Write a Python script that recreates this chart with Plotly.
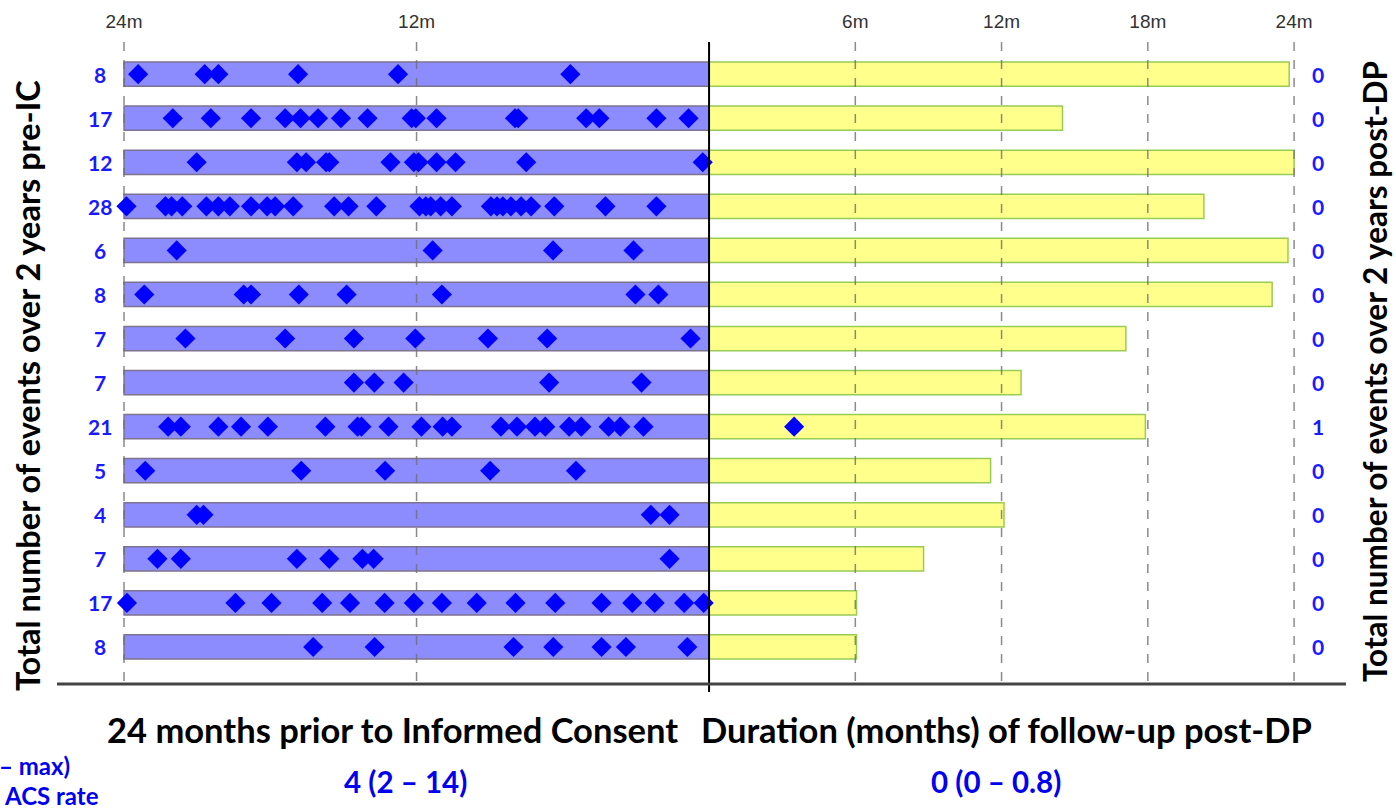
import plotly.graph_objects as go

# ---------------- data ----------------
pre_counts = [8, 17, 12, 28, 6, 8, 7, 7, 21, 5, 4, 7, 17, 8]
post_counts = [0, 0, 0, 0, 0, 0, 0, 0, 1, 0, 0, 0, 0, 0]
followup_months = [23.8, 14.5, 24.0, 20.3, 23.75, 23.1, 17.1, 12.8, 17.9, 11.55, 12.1, 8.8, 6.05, 6.05]

pre_events = [
    [-23.42, -20.69, -20.13, -16.86, -12.76, -5.69],
    [-22.00, -20.44, -18.79, -17.39, -16.76, -16.04, -15.10, -14.01, -12.20, -12.03, -11.18,
     -7.96, -7.83, -5.04, -4.50, -2.16, -0.84],
    [-21.02, -16.91, -16.53, -15.71, -15.58, -13.07, -12.11, -11.92, -11.18, -10.40, -7.50, -0.26],
    [-23.90, -22.30, -22.05, -21.61, -20.62, -20.13, -19.66, -18.79, -18.13, -17.80, -17.06,
     -15.38, -14.79, -13.65, -11.88, -11.62, -11.42, -11.01, -10.55, -8.95, -8.70, -8.46,
     -8.13, -7.71, -7.30, -6.35, -4.25, -2.16],
    [-21.84, -11.34, -6.40, -3.10],
    [-23.17, -19.09, -18.79, -16.83, -14.87, -10.96, -3.02, -2.08],
    [-21.48, -17.39, -14.57, -12.05, -9.07, -6.64, -0.76],
    [-14.57, -13.73, -12.53, -6.56, -2.77],
    [-22.19, -21.67, -20.13, -19.20, -18.10, -15.74, -14.42, -14.26, -13.15, -11.80, -10.93,
     -10.55, -8.54, -7.88, -7.14, -6.72, -5.74, -5.24, -4.12, -3.64, -2.69],
    [-23.13, -16.73, -13.29, -8.98, -5.46],
    [-21.02, -20.74, -2.39, -1.62],
    [-22.63, -21.67, -16.91, -15.58, -14.22, -13.76, -1.62],
    [-23.88, -19.43, -17.95, -15.87, -14.73, -13.31, -12.11, -10.96, -9.53, -7.94, -6.31,
     -4.41, -3.15, -2.23, -1.02, -0.22],
    [-16.24, -13.72, -8.02, -6.39, -4.41, -3.41, -0.89],
]
post_events = [[], [], [], [], [], [], [], [], [3.49], [], [], [], [], []]

tick_vals = [-24, -12, 6, 12, 18, 24]
tick_text = ["24m", "12m", "6m", "12m", "18m", "24m"]

left_title = "Total number of events over 2 years pre-IC"
right_title = "Total number of events over 2 years post-DP"
bottom_left = "24 months prior to Informed Consent"
bottom_right = "Duration (months) of follow-up post-DP"
summary_left = "4 (2 – 14)"
summary_right = "0 (0 – 0.8)"
side_lines = ["– max)", "ACS rate"]

# ---------------- figure ----------------
W, H = 1396, 811
L, R, T, B = 57, 50, 42, 127
pw, ph = W - L - R, H - T - B


def px(x):
    return (x - L) / pw


def py(y):
    return (H - B - y) / ph


rows = list(range(len(pre_counts)))
fig = go.Figure()

# pre-IC bars
fig.add_trace(go.Bar(
    y=rows, x=[24] * len(rows), base=-24, orientation="h", width=0.55,
    marker=dict(color="#8c8cff", line=dict(color="#7d7290", width=1.5)),
    hoverinfo="skip", showlegend=False))
# follow-up bars
fig.add_trace(go.Bar(
    y=rows, x=followup_months, base=0, orientation="h", width=0.55,
    marker=dict(color="#ffff8c", line=dict(color="#99cc55", width=1.5)),
    hoverinfo="skip", showlegend=False))

# dashed grid lines (over bars, under diamonds)
for tv in tick_vals:
    fig.add_trace(go.Scatter(
        x=[tv, tv], y=[-0.73, 13.84], mode="lines",
        line=dict(color="rgba(110,110,110,0.8)", width=1.5, dash="dash"),
        hoverinfo="skip", showlegend=False))

# event diamonds
ex, ey = [], []
for i, evs in enumerate(pre_events):
    ex += evs
    ey += [i] * len(evs)
for i, evs in enumerate(post_events):
    ex += evs
    ey += [i] * len(evs)
fig.add_trace(go.Scatter(
    x=ex, y=ey, mode="markers",
    marker=dict(symbol="diamond", size=15.5, color="#0000ff", line=dict(width=0)),
    cliponaxis=False, hoverinfo="skip", showlegend=False))

FONT = "Lato"
count_font = dict(family=FONT, size=21, color="#1a1aff")
# count labels
for i in rows:
    fig.add_annotation(x=-24.98, y=i, xref="x", yref="y", text=f"<b>{pre_counts[i]}</b>",
                       xanchor="center", yanchor="middle", showarrow=False, font=count_font)
    fig.add_annotation(x=24.98, y=i, xref="x", yref="y", text=f"<b>{post_counts[i]}</b>",
                       xanchor="center", yanchor="middle", showarrow=False, font=count_font)


def ann(x, y, text, font, angle=0, xanchor="center"):
    fig.add_annotation(x=px(x), y=py(y), xref="paper", yref="paper", text=f"<b>{text}</b>",
                       textangle=angle, xanchor=xanchor, yanchor="middle",
                       showarrow=False, font=font)


ann(27, 386, left_title, dict(family=FONT, size=32.5, color="black"), angle=-90)
ann(1375, 372, right_title, dict(family=FONT, size=31.5, color="black"), angle=-90)
title_font = dict(family=FONT, size=34.5, color="black")
ann(392, 730, bottom_left, title_font)
ann(1006, 730, bottom_right, title_font)

blue_font = dict(family=FONT, size=29.5, color="#0000ee")
ann(405, 781, summary_left, blue_font)
ann(996, 781, summary_right, blue_font)
side_font = dict(family=FONT, size=24, color="#0000ee")
ann(72, 765, side_lines[0], side_font, xanchor="right")
ann(101, 795, side_lines[1], side_font, xanchor="right")

# zero line and bottom axis line
fig.add_shape(type="line", xref="x", yref="paper", x0=0, x1=0, y0=py(692), y1=1,
              line=dict(color="black", width=2), layer="above")
fig.add_shape(type="line", xref="paper", yref="paper", x0=0, x1=1, y0=0, y1=0,
              line=dict(color="#444444", width=3), layer="above")

fig.update_layout(
    width=W, height=H,
    margin=dict(l=L, r=R, t=T, b=B, autoexpand=False),
    paper_bgcolor="white", plot_bgcolor="white",
    barmode="overlay",
    xaxis=dict(range=[-26.75, 26.13], side="top", tickvals=tick_vals, ticktext=tick_text,
               showgrid=False, zeroline=False, showline=False, automargin=False,
               ticks="outside", ticklen=5, tickcolor="rgba(0,0,0,0)",
               tickfont=dict(family="Liberation Sans", size=19, color="#333333")),
    yaxis=dict(range=[13.84, -0.73], showticklabels=False, showgrid=False,
               zeroline=False, showline=False, automargin=False),
)

fig.write_html("out.html", config={"displayModeBar": False},
               post_script="document.body.style.margin='0px';")
